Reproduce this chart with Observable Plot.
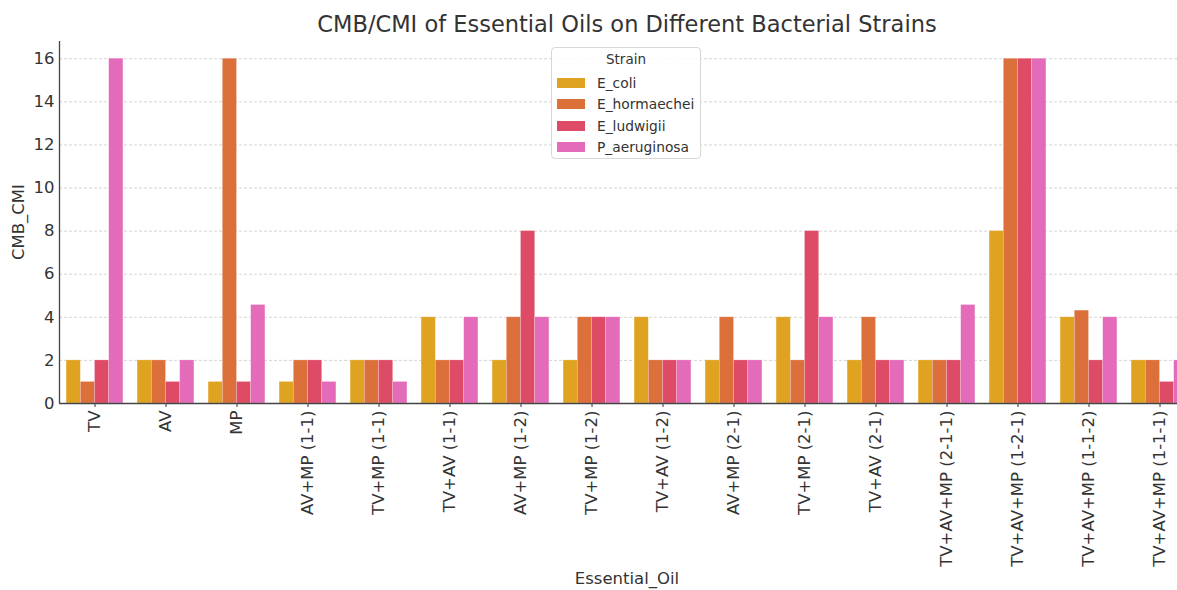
<!DOCTYPE html>
<html>
<head>
<meta charset="utf-8">
<script src="https://cdn.jsdelivr.net/npm/d3@7"></script>
<script src="https://cdn.jsdelivr.net/npm/@observablehq/plot@0.6"></script>
<style>
  html, body { margin: 0; padding: 0; background: #fff; overflow: hidden; width: 1177px; height: 590px; }
  #wrap { position: relative; width: 1177px; height: 590px; overflow: hidden; font-family: "DejaVu Sans", sans-serif; color: #333; }
  #title { position: absolute; left: 627px; top: 11px; transform: translateX(-50%); font-size: 22.5px; line-height: 1.164; white-space: nowrap; }
  #chart { position: absolute; left: 0; top: 38px; width: 1200px; }
  #chart svg { max-width: none !important; }
  #ylabel { position: absolute; left: 19px; top: 222px; transform: translate(-50%, -50%) rotate(-90deg); font-size: 16.5px; line-height: 1.164; white-space: nowrap; }
  #xlabel { position: absolute; left: 627px; top: 579px; transform: translate(-50%, -50%); font-size: 16.5px; line-height: 1.3; white-space: nowrap; }
  #legend { position: absolute; left: 551px; top: 47px; width: 148px; height: 110px; background: rgba(255,255,255,0.85); border: 1px solid #d8d8d8; border-radius: 4px; font-size: 13.8px; }
  #legend .lt { text-align: center; margin-top: 3px; height: 21px; font-size: 13.5px; }
  #legend .row { display: flex; align-items: center; height: 21.5px; }
  #legend .sw { width: 28px; height: 10px; margin-left: 5px; margin-right: 12px; }
</style>
</head>
<body>
<div id="wrap">
  <div id="title">CMB/CMI of Essential Oils on Different Bacterial Strains</div>
  <div id="chart"></div>
  <div id="ylabel">CMB_CMI</div>
  <div id="xlabel">Essential_Oil</div>
  <div id="legend"></div>
</div>
<script>
const oils = ["TV", "AV", "MP", "AV+MP (1-1)", "TV+MP (1-1)", "TV+AV (1-1)", "AV+MP (1-2)", "TV+MP (1-2)",
  "TV+AV (1-2)", "AV+MP (2-1)", "TV+MP (2-1)", "TV+AV (2-1)", "TV+AV+MP (2-1-1)", "TV+AV+MP (1-2-1)",
  "TV+AV+MP (1-1-2)", "TV+AV+MP (1-1-1)"];
const strains = ["E_coli", "E_hormaechei", "E_ludwigii", "P_aeruginosa"];
const eColi       = [2, 2, 1, 1, 2, 4, 2, 2, 4, 2, 4, 2, 2, 8, 4, 2];
const eHormaechei = [1, 2, 16, 2, 2, 2, 4, 4, 2, 4, 2, 4, 2, 16, 4.31, 2];
const eLudwigii   = [2, 1, 1, 2, 2, 2, 8, 4, 2, 2, 8, 2, 2, 16, 2, 1];
const pAeruginosa = [16, 2, 4.57, 1, 1, 4, 4, 4, 2, 2, 4, 2, 4.57, 16, 4, 2];
const colors = ["#e0a321", "#dc703b", "#dd4b66", "#e36bb9"];
const yTicks = [0, 2, 4, 6, 8, 10, 12, 14, 16];

const series = [eColi, eHormaechei, eLudwigii, pAeruginosa];
const data = [];
oils.forEach((oil, i) => {
  strains.forEach((s, j) => {
    data.push({oil, i, strain: s, j, value: series[j][i]});
  });
});
const bw = 0.8 / strains.length;

const plot = Plot.plot({
  width: 1200,
  height: 552,
  marginTop: 3,
  marginBottom: 187,
  marginLeft: 59,
  marginRight: 5,
  style: {fontFamily: "DejaVu Sans, sans-serif", color: "#333", background: "transparent", maxWidth: "none"},
  x: {domain: [-0.5, oils.length - 0.5]},
  y: {domain: [0, 16.8]},
  color: {domain: strains, range: colors},
  marks: [
    Plot.gridY(yTicks, {stroke: "#bbb", strokeOpacity: 0.8, strokeDasharray: "3,2", strokeWidth: 0.8}),
    Plot.rectY(data, {
      x1: d => d.i - 0.4 + d.j * bw,
      x2: d => d.i - 0.4 + (d.j + 1) * bw,
      y1: 0,
      y2: "value",
      fill: "strain",
      stroke: "#fff",
      strokeOpacity: 0.35,
      strokeWidth: 0.6
    }),
    Plot.axisY(yTicks, {tickSize: 0, tickPadding: 5, fontSize: 16.5, label: null}),
    Plot.axisX(d3.range(oils.length), {
      tickFormat: i => oils[i], tickRotate: -90, tickSize: 4, tickPadding: 3,
      fontSize: 16.5, label: null, stroke: "#333"
    }),
    Plot.ruleX([-0.5], {stroke: "#444", strokeWidth: 1.3}),
    Plot.ruleY([0], {stroke: "#444", strokeWidth: 1.3})
  ]
});
plot.style.maxWidth = "none";
document.getElementById("chart").appendChild(plot);

const lg = document.getElementById("legend");
lg.innerHTML = '<div class="lt">Strain</div>' + strains.map((s, j) =>
  `<div class="row"><div class="sw" style="background:${colors[j]}"></div><span>${s}</span></div>`).join("");
</script>
</body>
</html>
